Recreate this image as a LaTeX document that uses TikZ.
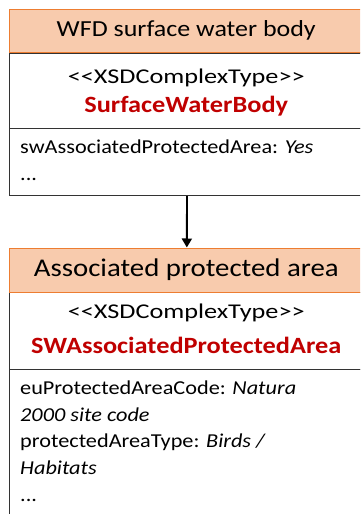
\documentclass[tikz,border=0pt]{standalone}
\usepackage{fontspec}
\setmainfont{Carlito}[FakeStretch=1.13]
\newfontfamily\stfont{Carlito}[FakeStretch=1.25]
\usetikzlibrary{positioning,arrows.meta}

\definecolor{hdrfill}{HTML}{F8CBAD}
\definecolor{hdrline}{HTML}{ED7D31}
\definecolor{clsred}{HTML}{C00000}
\definecolor{boxline}{HTML}{333333}

% guillemet-free stereotype
\newcommand{\stereo}[1]{<\kern0pt<#1>\kern0pt>}

\tikzset{
  hdr/.style={draw=hdrline, fill=hdrfill, line width=1.2pt, anchor=north west,
    minimum width=355.5pt, inner sep=0pt},
  part/.style={draw=boxline, fill=white, line width=1.5pt, anchor=north west,
    minimum width=355.5pt, inner sep=0pt},
  stereotxt/.style={anchor=base, font=\stfont\fontsize{21}{25}\selectfont},
  clsname/.style={anchor=base, text=clsred, font=\fontsize{23.3}{28}\selectfont\bfseries},
  attrtxt/.style={anchor=north west, align=left, inner sep=0pt,
    font=\fontsize{19.7}{26.7}\selectfont},
}

\begin{document}
\begin{tikzpicture}[x=1pt,y=-1pt]
\useasboundingbox (0,0) rectangle (360,514);
\clip (0,0) rectangle (360,514);

% WFD surface water body
\node[part, minimum height=67pt] (attrA) at (8.5,127.5) {};
\node[part, minimum height=75.5pt] (bodyA) at (8.5,52) {};
\node[hdr, minimum height=43pt] (hdrA) at (8.5,9) {};
\node[anchor=base, font=\fontsize{23}{27}\selectfont] (titleA) at (186.25,36.7) {WFD surface water body};
\node[stereotxt] (stA) at (186.25,83.3) {\stereo{XSDComplexType}};
\node[clsname] (nameA) at (186.25,112.5) {SurfaceWaterBody};
\node[attrtxt] (fieldsA) at (20,140) {swAssociatedProtectedArea: \textit{Yes}\\...};

% Associated protected area
\node[part, minimum height=160pt] (attrB) at (8.5,368.5) {};
\node[part, minimum height=77pt] (bodyB) at (8.5,291.5) {};
\node[hdr, minimum height=44pt] (hdrB) at (8.5,247.5) {};
\node[anchor=base, font=\fontsize{25.5}{30}\selectfont] (titleB) at (186.25,276.7) {Associated protected area};
\node[stereotxt] (stB) at (186.25,318) {\stereo{XSDComplexType}};
\node[clsname] (nameB) at (186.25,353) {SWAssociatedProtectedArea};
\node[attrtxt] (fieldsB) at (20,380.5) {euProtectedAreaCode: \textit{Natura}\\
  \textit{2000 site code}\\
  protectedAreaType: \textit{Birds /}\\
  \textit{Habitats}\\
  ...};

\draw[-{Triangle[width=10pt,length=9pt]}, line width=1.9pt] (attrA.south) -- (hdrB.north);
\end{tikzpicture}
\end{document}
